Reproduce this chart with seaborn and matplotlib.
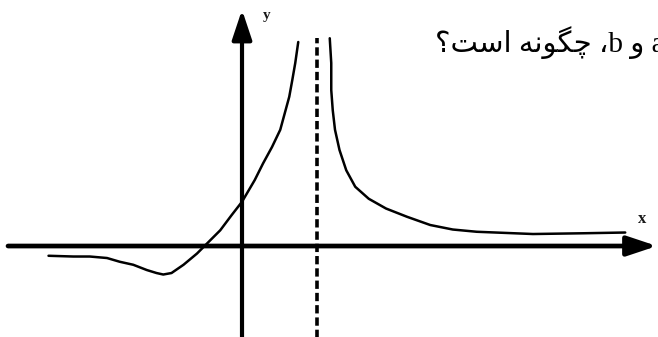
import pandas as pd
import matplotlib
matplotlib.use("Agg")
import matplotlib.pyplot as plt
import seaborn as sns

# curve, origin at the axes crossing, asymptote at x = 1
left_x = [-2.58, -2.25, -2.03, -1.80, -1.63, -1.45, -1.27, -1.14, -1.05, -0.94, -0.78,
          -0.60, -0.49, -0.29, -0.14, 0.00, 0.17, 0.28, 0.40, 0.51, 0.57, 0.63, 0.67,
          0.71, 0.75]
left_y = [-0.13, -0.14, -0.14, -0.16, -0.21, -0.25, -0.32, -0.36, -0.38, -0.36, -0.25,
          -0.10, 0.01, 0.21, 0.41, 0.59, 0.88, 1.10, 1.32, 1.55, 1.77, 1.99, 2.21,
          2.44, 2.72]
right_x = [1.17, 1.19, 1.19, 1.21, 1.24, 1.30, 1.39, 1.51, 1.69, 1.92, 2.20, 2.51,
           2.81, 3.13, 3.88, 4.55, 5.11]
right_y = [2.77, 2.44, 2.08, 1.81, 1.55, 1.28, 1.01, 0.79, 0.63, 0.50, 0.39, 0.28,
           0.22, 0.19, 0.16, 0.17, 0.18]
asymptote_x = 1.0
asymptote_top = 2.77

# "a و b، چگونه است؟" written out in visual order with shaped letters
# (matplotlib does no arabic shaping / bidi on its own)
question = ("\u061f" + "\ufe96\ufeb3\ufe8d" + " " + "\ufeea\ufee7\ufeee\ufb95\ufb7c"
            + " \u060cb " + "\ufeed" + " a")

df = pd.DataFrame({
    "x": left_x + right_x,
    "y": left_y + right_y,
    "branch": ["left"] * len(left_x) + ["right"] * len(right_x),
})

sns.set_theme(style="white")
plt.rcParams['font.family'] = ['Liberation Serif', 'DejaVu Sans']

fig = plt.figure(figsize=(6.58, 3.37), dpi=100)
ax = fig.add_axes([0, 0, 1, 1])
ax.set_xlim(-3.227, 5.547)
ax.set_ylim(-1.213, 3.28)
ax.axis("off")

# the function
sns.lineplot(data=df, x="x", y="y", units="branch", estimator=None, sort=False,
             color="black", lw=1.8, ax=ax, legend=False)
for ln in ax.lines:
    ln.set_solid_joinstyle("round")

# asymptote
ax.vlines(asymptote_x, -1.3, asymptote_top, colors="black", lw=2.6,
          linestyles=(0, (2.3, 1.1)))

# axes with arrows
arrow = dict(arrowstyle="-|>,head_length=0.9,head_width=0.3", lw=3.4, color="black",
             mutation_scale=20, shrinkA=0, shrinkB=0)
ax.annotate("", xy=(5.533, 0), xytext=(-3.12, 0), arrowprops=arrow)
arrow_y = dict(arrow, lw=3.0)
ax.annotate("", xy=(0, 3.15), xytext=(0, -1.3), arrowprops=arrow_y)

ax.text(0.33, 3.07, "y", fontsize=11, fontweight="bold", ha="center", va="center",
        family="Liberation Serif", color="#1a1a1a")
ax.text(5.33, 0.36, "x", fontsize=12, fontweight="bold", ha="center", va="center",
        family="Liberation Serif", color="#1a1a1a")

ax.text(5.63, 2.59, question, fontsize=21, ha="right", va="baseline",
        family=["Liberation Serif", "DejaVu Sans"], color="black")

fig.savefig("out.png", dpi=100)
